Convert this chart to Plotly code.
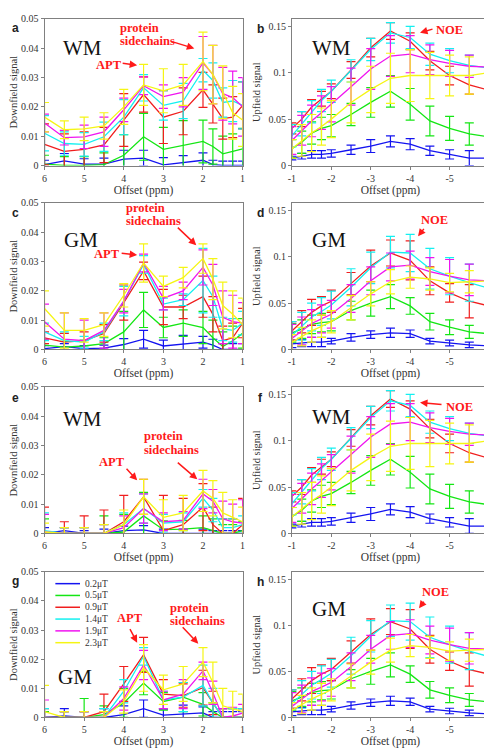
import plotly.graph_objects as go
from plotly.subplots import make_subplots

# The page body has an 8px default margin, so the figure is drawn offset by 8px.
W, H = 492, 751
OFF = 8
FW, FH = W - OFF, H - OFF

offsets_down = [6, 5.5, 5, 4.5, 4, 3.5, 3, 2.5, 2, 1.75, 1.5, 1.25, 1]
offsets_up = [-1, -1.25, -1.5, -1.75, -2, -2.5, -3, -3.5, -4, -4.5, -5, -5.5, -6]
series_labels = ["0.2\u03bcT", "0.5\u03bcT", "0.9\u03bcT", "1.4\u03bcT", "1.9\u03bcT", "2.3\u03bcT"]
series_colors = ["#1414f0", "#14e614", "#f01e1e", "#14f0f0", "#f014f0", "#f5f514"]

down_ticks = [6, 5, 4, 3, 2, 1]
down_ticktext = ["6", "5", "4", "3", "2", "1"]
up_ticks = [-1, -2, -3, -4, -5, -6]
up_ticktext = ["-1", "-2", "-3", "-4", "-5", "-6"]

# Panel a: WM downfield
wm_down_a = [
    [0.0003, 0.0016, 0.0005, 0.0005, 0.0022, 0.0025, 0.0002, 0.0009, 0.0018, 0.0003, 0.0, 0.0, 0.0],
    [0.0005, 0.0, 0.0, 0.0003, 0.0035, 0.0098, 0.0055, 0.0068, 0.0082, 0.0065, 0.004, 0.0048, 0.0057],
    [0.0072, 0.0048, 0.0055, 0.007, 0.0155, 0.0242, 0.0165, 0.0185, 0.0258, 0.021, 0.016, 0.0165, 0.0205],
    [0.011, 0.0075, 0.0072, 0.0098, 0.0165, 0.0265, 0.0205, 0.022, 0.0325, 0.029, 0.0215, 0.022, 0.0205],
    [0.0145, 0.0095, 0.0098, 0.0115, 0.019, 0.0272, 0.0235, 0.025, 0.035, 0.031, 0.0245, 0.0232, 0.02],
    [0.0165, 0.0122, 0.0125, 0.0135, 0.02, 0.0275, 0.0255, 0.0275, 0.0355, 0.031, 0.025, 0.018, 0.0155],
]
wm_down_a_err = [
    [0.0015, 0.0025, 0.0018, 0.002, 0.003, 0.0027, 0.0025, 0.0025, 0.0025, 0.0015, 0.0015, 0.0015, 0.0015],
    [0.003, 0.003, 0.003, 0.004, 0.007, 0.008, 0.0075, 0.0085, 0.0073, 0.006, 0.006, 0.006, 0.007],
    [0.007, 0.006, 0.006, 0.006, 0.009, 0.006, 0.009, 0.008, 0.006, 0.0065, 0.007, 0.007, 0.008],
    [0.006, 0.004, 0.004, 0.005, 0.006, 0.0045, 0.005, 0.006, 0.004, 0.006, 0.005, 0.007, 0.008],
    [0.003, 0.0025, 0.004, 0.005, 0.004, 0.003, 0.004, 0.005, 0.009, 0.01, 0.009, 0.009, 0.01],
    [0.005, 0.003, 0.004, 0.0045, 0.006, 0.007, 0.0075, 0.007, 0.01, 0.01, 0.009, 0.009, 0.009],
]

# Panels b and f: WM upfield
wm_up = [
    [0.008, 0.01, 0.012, 0.012, 0.013, 0.017, 0.021, 0.026, 0.023, 0.016, 0.012, 0.008, 0.008],
    [0.018, 0.025, 0.035, 0.04, 0.043, 0.055, 0.068, 0.08, 0.066, 0.048, 0.04, 0.034, 0.031],
    [0.04, 0.05, 0.063, 0.072, 0.08, 0.103, 0.127, 0.145, 0.134, 0.113, 0.097, 0.087, 0.081],
    [0.032, 0.045, 0.058, 0.07, 0.08, 0.102, 0.125, 0.143, 0.138, 0.12, 0.113, 0.108, 0.105],
    [0.027, 0.038, 0.048, 0.057, 0.066, 0.085, 0.104, 0.118, 0.12, 0.114, 0.11, 0.107, 0.106],
    [0.018, 0.027, 0.035, 0.042, 0.05, 0.068, 0.082, 0.094, 0.097, 0.097, 0.097, 0.097, 0.1],
]
wm_up_err = [
    [0.002, 0.003, 0.004, 0.004, 0.004, 0.005, 0.007, 0.006, 0.006, 0.005, 0.005, 0.008, 0.005],
    [0.01, 0.012, 0.012, 0.012, 0.012, 0.012, 0.016, 0.017, 0.017, 0.016, 0.013, 0.012, 0.012],
    [0.006, 0.008, 0.008, 0.008, 0.008, 0.009, 0.01, 0.009, 0.009, 0.01, 0.01, 0.01, 0.01],
    [0.012, 0.013, 0.012, 0.012, 0.012, 0.012, 0.012, 0.011, 0.012, 0.012, 0.013, 0.011, 0.012],
    [0.015, 0.016, 0.017, 0.018, 0.019, 0.02, 0.022, 0.022, 0.02, 0.016, 0.014, 0.012, 0.012],
    [0.01, 0.017, 0.02, 0.02, 0.02, 0.022, 0.025, 0.027, 0.028, 0.025, 0.022, 0.02, 0.022],
]

# Panel c: GM downfield
gm_down_c = [
    [0.0003, 0.001, 0.0003, 0.0005, 0.0017, 0.0035, 0.0012, 0.0018, 0.0025, 0.0015, 0.0, 0.0, 0.0],
    [0.0015, 0.0008, 0.0012, 0.002, 0.006, 0.0135, 0.0075, 0.009, 0.0075, 0.004, 0.001, 0.003, 0.0055],
    [0.004, 0.0025, 0.003, 0.0055, 0.016, 0.0268, 0.0145, 0.0145, 0.018, 0.012, 0.003, 0.004, 0.009],
    [0.006, 0.003, 0.0025, 0.006, 0.0165, 0.029, 0.0155, 0.017, 0.0235, 0.018, 0.007, 0.0065, 0.009],
    [0.0095, 0.0035, 0.003, 0.0065, 0.0165, 0.0295, 0.0175, 0.02, 0.028, 0.022, 0.011, 0.0095, 0.009],
    [0.014, 0.0065, 0.0065, 0.0085, 0.0185, 0.0295, 0.0215, 0.0245, 0.031, 0.024, 0.015, 0.012, 0.0085],
]
gm_down_c_err = [
    [0.001, 0.001, 0.001, 0.001, 0.002, 0.003, 0.002, 0.003, 0.002, 0.002, 0.002, 0.002, 0.002],
    [0.002, 0.002, 0.002, 0.002, 0.007, 0.006, 0.0035, 0.0045, 0.0055, 0.006, 0.005, 0.005, 0.005],
    [0.002, 0.003, 0.003, 0.003, 0.006, 0.003, 0.006, 0.004, 0.007, 0.006, 0.005, 0.005, 0.005],
    [0.003, 0.003, 0.002, 0.003, 0.005, 0.003, 0.002, 0.002, 0.011, 0.007, 0.004, 0.004, 0.004],
    [0.006, 0.009, 0.007, 0.006, 0.004, 0.003, 0.004, 0.003, 0.006, 0.007, 0.009, 0.009, 0.007],
    [0.006, 0.006, 0.004, 0.004, 0.004, 0.0065, 0.0035, 0.0035, 0.005, 0.007, 0.008, 0.008, 0.009],
]

# Panels d and h: GM upfield
gm_up = [
    [0.006, 0.007, 0.008, 0.008, 0.009, 0.013, 0.016, 0.018, 0.017, 0.009, 0.007, 0.005, 0.004],
    [0.018, 0.022, 0.027, 0.029, 0.03, 0.042, 0.05, 0.057, 0.047, 0.03, 0.024, 0.019, 0.017],
    [0.02, 0.03, 0.04, 0.047, 0.052, 0.071, 0.09, 0.104, 0.096, 0.074, 0.061, 0.052, 0.047],
    [0.015, 0.025, 0.035, 0.041, 0.048, 0.067, 0.088, 0.105, 0.104, 0.087, 0.079, 0.072, 0.066],
    [0.012, 0.02, 0.028, 0.033, 0.038, 0.055, 0.074, 0.089, 0.091, 0.084, 0.079, 0.075, 0.074],
    [0.008, 0.014, 0.02, 0.025, 0.03, 0.045, 0.06, 0.073, 0.078, 0.076, 0.072, 0.073, 0.074],
]
gm_up_err = [
    [0.004, 0.004, 0.005, 0.005, 0.003, 0.004, 0.004, 0.005, 0.004, 0.003, 0.003, 0.003, 0.003],
    [0.01, 0.01, 0.01, 0.01, 0.01, 0.01, 0.014, 0.013, 0.009, 0.009, 0.008, 0.007, 0.007],
    [0.01, 0.012, 0.014, 0.01, 0.012, 0.012, 0.017, 0.014, 0.021, 0.015, 0.01, 0.018, 0.01],
    [0.015, 0.015, 0.015, 0.015, 0.015, 0.02, 0.017, 0.017, 0.02, 0.022, 0.02, 0.02, 0.02],
    [0.015, 0.015, 0.015, 0.015, 0.015, 0.015, 0.015, 0.015, 0.015, 0.015, 0.018, 0.017, 0.017],
    [0.008, 0.01, 0.012, 0.012, 0.012, 0.013, 0.013, 0.013, 0.012, 0.012, 0.01, 0.012, 0.01],
]

# Panel e: WM downfield (corrected)
wm_down_e = [
    [0.0, 0.001, 0.0, 0.0, 0.001, 0.0012, 0.0, 0.0, 0.0, 0.0, 0.0, 0.0, 0.0],
    [0.0, 0.0, 0.0, 0.0, 0.0005, 0.006, 0.0013, 0.0015, 0.002, 0.001, 0.0, 0.0, 0.001],
    [0.0, 0.0, 0.0, 0.0, 0.004, 0.0125, 0.001, 0.003, 0.009, 0.003, 0.0, 0.0, 0.003],
    [0.001, 0.0, 0.0, 0.0, 0.003, 0.0085, 0.0035, 0.004, 0.012, 0.008, 0.002, 0.002, 0.003],
    [0.0005, 0.0, 0.0, 0.0, 0.002, 0.0085, 0.004, 0.0045, 0.0135, 0.011, 0.005, 0.004, 0.0035],
    [0.0005, 0.0, 0.0, 0.0, 0.003, 0.0125, 0.0055, 0.007, 0.0145, 0.012, 0.007, 0.0055, 0.004],
]
wm_down_e_err = [
    [0.002, 0.001, 0.001, 0.0015, 0.0015, 0.0015, 0.0015, 0.0015, 0.0015, 0.001, 0.001, 0.001, 0.001],
    [0.005, 0.002, 0.002, 0.006, 0.006, 0.008, 0.003, 0.003, 0.004, 0.004, 0.003, 0.003, 0.003],
    [0.009, 0.004, 0.006, 0.008, 0.009, 0.006, 0.012, 0.009, 0.008, 0.006, 0.005, 0.005, 0.009],
    [0.006, 0.002, 0.002, 0.003, 0.004, 0.005, 0.003, 0.003, 0.003, 0.004, 0.003, 0.003, 0.003],
    [0.006, 0.002, 0.002, 0.003, 0.004, 0.005, 0.003, 0.003, 0.005, 0.004, 0.006, 0.006, 0.008],
    [0.003, 0.002, 0.002, 0.003, 0.005, 0.006, 0.006, 0.006, 0.007, 0.006, 0.007, 0.006, 0.005],
]

# Panel g: GM downfield (corrected)
gm_down_g = [
    [0.0, 0.0005, 0.0, 0.0, 0.001, 0.003, 0.0008, 0.0012, 0.0016, 0.0, 0.0, 0.0, 0.0],
    [0.0, 0.0, 0.0, 0.001, 0.005, 0.0118, 0.0055, 0.007, 0.0045, 0.002, 0.0, 0.0, 0.0],
    [0.0, 0.0, 0.0, 0.002, 0.0115, 0.0215, 0.008, 0.0075, 0.0102, 0.005, 0.0, 0.0, 0.0],
    [0.0, 0.0, 0.0, 0.0, 0.009, 0.021, 0.006, 0.007, 0.011, 0.005, 0.0, 0.0, 0.0],
    [0.0, 0.0, 0.0, 0.0, 0.0065, 0.018, 0.006, 0.008, 0.016, 0.0085, 0.0, 0.0005, 0.0015],
    [0.002, 0.0, 0.0, 0.0, 0.0055, 0.017, 0.0095, 0.0115, 0.019, 0.012, 0.004, 0.003, 0.002],
]
gm_down_g_err = [
    [0.002, 0.0025, 0.002, 0.003, 0.003, 0.003, 0.002, 0.003, 0.002, 0.002, 0.002, 0.002, 0.002],
    [0.002, 0.002, 0.0065, 0.003, 0.005, 0.004, 0.003, 0.005, 0.004, 0.003, 0.003, 0.003, 0.003],
    [0.003, 0.002, 0.002, 0.006, 0.006, 0.006, 0.005, 0.004, 0.006, 0.004, 0.003, 0.003, 0.003],
    [0.003, 0.002, 0.002, 0.003, 0.004, 0.003, 0.003, 0.005, 0.007, 0.005, 0.003, 0.003, 0.003],
    [0.006, 0.002, 0.002, 0.002, 0.004, 0.005, 0.003, 0.005, 0.003, 0.004, 0.003, 0.003, 0.003],
    [0.009, 0.002, 0.002, 0.002, 0.004, 0.008, 0.005, 0.006, 0.005, 0.007, 0.006, 0.006, 0.006],
]

panels = [
    # letter, row, col, values, errors, tissue label
    ("a", 1, 1, wm_down_a, wm_down_a_err, "WM"),
    ("b", 1, 2, wm_up, wm_up_err, "WM"),
    ("c", 2, 1, gm_down_c, gm_down_c_err, "GM"),
    ("d", 2, 2, gm_up, gm_up_err, "GM"),
    ("e", 3, 1, wm_down_e, wm_down_e_err, "WM"),
    ("f", 3, 2, wm_up, wm_up_err, "WM"),
    ("g", 4, 1, gm_down_g, gm_down_g_err, "GM"),
    ("h", 4, 2, gm_up, gm_up_err, "GM"),
]

SERIF = "Liberation Serif"
SANS = "Liberation Sans"
RED = "#ff1a1a"
TXT = "#333333"


def px(x):
    return (x - OFF) / FW


def py(y):
    return 1 - (y - OFF) / FH


fig = make_subplots(rows=4, cols=2)

row_px = {1: (13, 162), 2: (200, 349), 3: (387, 536), 4: (575, 723)}
col_px = {1: (41, 242), 2: (292, 492)}

for letter, r, c, vals, errs, tissue in panels:
    xs = offsets_down if c == 1 else offsets_up
    for i in range(6):
        fig.add_trace(
            go.Scatter(
                x=xs, y=vals[i], mode="lines", name=series_labels[i],
                line=dict(color=series_colors[i], width=1.3),
                error_y=dict(type="data", array=errs[i], visible=True,
                             color=series_colors[i], thickness=1.2, width=4.5),
                showlegend=False,
            ),
            row=r, col=c,
        )

for r in range(1, 5):
    for c in range(1, 3):
        idx = (r - 1) * 2 + c
        xa = "xaxis" if idx == 1 else f"xaxis{idx}"
        ya = "yaxis" if idx == 1 else f"yaxis{idx}"
        x0, x1 = col_px[c]
        y0, y1 = row_px[r]
        common = dict(showline=True, mirror=True, linecolor="#808080", linewidth=1,
                      showgrid=False, zeroline=False, ticks="outside", ticklen=3,
                      tickcolor="#808080",
                      tickfont=dict(family=SERIF, size=10, color=TXT))
        if c == 1:
            xcfg = dict(domain=[px(x0), min(px(x1), 1)], range=[6, 1], tickvals=down_ticks,
                        ticktext=down_ticktext)
            ycfg = dict(domain=[py(y1), py(y0)], range=[0, 0.05],
                        tickvals=[0, 0.01, 0.02, 0.03, 0.04, 0.05],
                        ticktext=["0", "0.01", "0.02", "0.03", "0.04", "0.05"],
                        title=dict(text="Downfield signal", standoff=5,
                                   font=dict(family=SERIF, size=10.5, color=TXT)))
        else:
            xcfg = dict(domain=[px(x0), min(px(x1), 1)], range=[-1, -6], tickvals=up_ticks,
                        ticktext=up_ticktext)
            ycfg = dict(domain=[py(y1), py(y0)], range=[0, 0.158],
                        tickvals=[0, 0.05, 0.1, 0.15],
                        ticktext=["0", "0.05", "0.1", "0.15"],
                        title=dict(text="Upfield signal", standoff=5,
                                   font=dict(family=SERIF, size=10.5, color=TXT)))
        xcfg["title"] = dict(text="Offset (ppm)", standoff=0,
                             font=dict(family=SERIF, size=11.5, color=TXT))
        xcfg.update(common)
        ycfg.update(common)
        fig.layout[xa].update(xcfg)
        fig.layout[ya].update(ycfg)

annotations = []

letter_pos = {"a": (12, 22), "b": (260, 23), "c": (12, 210), "d": (260, 210),
              "e": (12, 398), "f": (260, 398), "g": (12, 584), "h": (260, 585)}
tissue_pos = {"a": (80, 43), "b": (332, 43), "c": (78, 238), "d": (330, 238),
              "e": (80, 420), "f": (332, 418), "g": (72, 682), "h": (330, 613)}
for letter, r, c, vals, errs, tissue in panels:
    lx, ly = letter_pos[letter]
    annotations.append(dict(x=px(lx), y=py(ly), xref="paper", yref="paper", text=f"<b>{letter}</b>",
                            showarrow=False, xanchor="center", yanchor="middle",
                            font=dict(family=SANS, size=12, color="#222222")))
    tx, ty = tissue_pos[letter]
    annotations.append(dict(x=px(tx), y=py(ty), xref="paper", yref="paper", text=tissue,
                            showarrow=False, xanchor="center", yanchor="middle",
                            font=dict(family=SERIF, size=21, color="#111111")))

red_texts = [
    ("protein", 116, 22, "left"), ("sidechains", 116, 35, "left"), ("APT", 106, 60, "center"),
    ("NOE", 452, 24, "center"),
    ("protein", 122, 205, "left"), ("sidechains", 122, 218, "left"), ("APT", 104, 252, "center"),
    ("NOE", 437, 217, "center"),
    ("protein", 140, 437, "left"), ("sidechains", 140, 451, "left"), ("APT", 109, 463, "center"),
    ("NOE", 462, 407, "center"),
    ("protein", 166, 612, "left"), ("sidechains", 166, 625, "left"), ("APT", 128, 622, "center"),
    ("NOE", 438, 595, "center"),
]
for t, x, y, anc in red_texts:
    annotations.append(dict(x=px(x), y=py(y), xref="paper", yref="paper", text=f"<b>{t}</b>",
                            showarrow=False, xanchor=anc, yanchor="middle",
                            font=dict(family=SERIF, size=12.5, color=RED)))

red_arrows = [
    (193, 43, -23, -7), (135, 60, -16, -2), (422, 27, 14, -4),
    (195, 243, -20, -19), (135, 253, -17, -2), (420, 234, 7, -9),
    (196, 481, -21, -18), (135, 482, -12, -13), (422, 403, 23, 2),
    (197, 648, -17, -18), (135, 647, -8, -15), (421, 612, 6, -8),
]
for hx, hy, ax, ay in red_arrows:
    annotations.append(dict(x=px(hx), y=py(hy), xref="paper", yref="paper", text="",
                            showarrow=True, ax=ax, ay=ay, arrowhead=2, arrowsize=1,
                            arrowwidth=1.5, arrowcolor=RED, standoff=0, startstandoff=0))

shapes = []
leg_x0, leg_x1, leg_tx, leg_y0, leg_dy = 52, 77, 80, 587, 12
for i, lab in enumerate(series_labels):
    yy = leg_y0 + leg_dy * i
    shapes.append(dict(type="line", xref="paper", yref="paper", x0=px(leg_x0), x1=px(leg_x1),
                       y0=py(yy), y1=py(yy), line=dict(color=series_colors[i], width=1.5)))
    annotations.append(dict(x=px(leg_tx), y=py(yy), xref="paper", yref="paper", text=lab,
                            showarrow=False, xanchor="left", yanchor="middle",
                            font=dict(family=SERIF, size=9.5, color=TXT)))

fig.update_layout(
    width=FW, height=FH, margin=dict(l=0, r=0, t=0, b=0),
    paper_bgcolor="white", plot_bgcolor="white",
    showlegend=False, annotations=annotations, shapes=shapes,
    font=dict(family=SERIF, color=TXT),
)

fig.write_html("out.html")
